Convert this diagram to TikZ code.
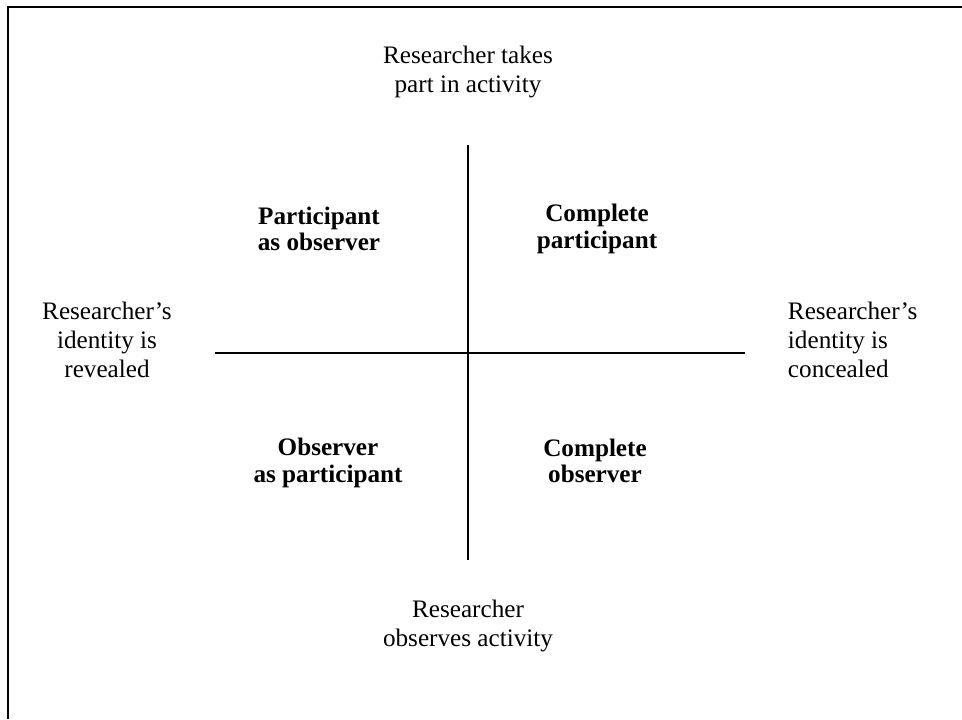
\documentclass[tikz,border=0pt]{standalone}
\usepackage{fontspec}
\setmainfont{Liberation Serif}

\begin{document}
\begin{tikzpicture}[x=0.025cm,y=-0.025cm,line width=1.4pt,
                    lbl/.style={inner sep=0pt,align=center,
                      font=\fontsize{17.9}{20.6}\selectfont},
                    cell/.style={inner sep=0pt,align=center,
                      font=\fontsize{17.9}{18.6}\selectfont\bfseries}]
  \useasboundingbox (0,0) rectangle (962,719);
  % frame
  \draw (8,719) -- (8,7) -- (962,7);
  % axes
  \coordinate (top) at (468,145);
  \coordinate (bot) at (468,560);
  \coordinate (lft) at (215,353);
  \coordinate (rgt) at (745,353);
  \draw (top) -- (bot);
  \draw (lft) -- (rgt);
  % axis labels
  \node[lbl] (takes) at (468,72) {Researcher takes\\part in activity};
  \node[lbl] (observes) at (468,626) {Researcher\\observes activity};
  \node[lbl] (revealed) at (107,340) {Researcher’s\\identity is\\revealed};
  \node[lbl,align=left,anchor=west] (concealed) at (787,340)
    {Researcher’s\\identity is\\concealed};
  % quadrants
  \node[cell] (po) at (319,229) {Participant\\as observer};
  \node[cell] (cp) at (597,229) {Complete\\participant};
  \node[cell] (op) at (328,463) {Observer\\as participant};
  \node[cell] (co) at (595,461) {Complete\\observer};
\end{tikzpicture}
\end{document}
